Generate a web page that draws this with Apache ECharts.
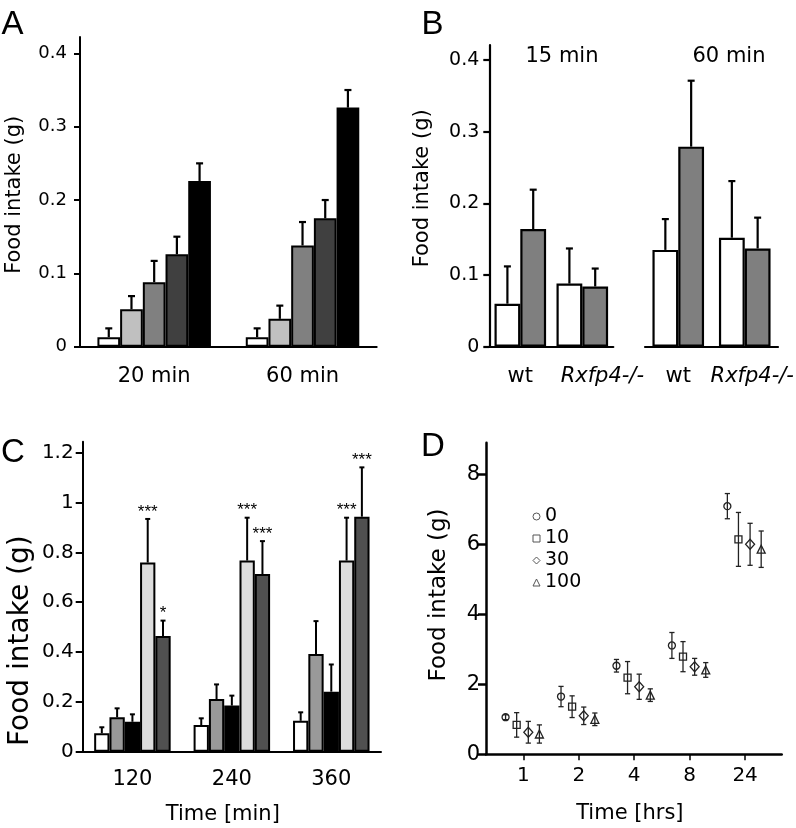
<!DOCTYPE html>
<html><head><meta charset="utf-8">
<script src="https://cdn.jsdelivr.net/npm/echarts@6/dist/echarts.min.js"></script>
<style>html,body{margin:0;padding:0;background:#fff}#c{width:796px;height:828px}</style>
</head><body><div id="c"></div>
<script>
// ---------- Panel A ----------
const aCategories = ['20 min', '60 min'];
const aSeriesMeans = [[0.013, 0.013], [0.051, 0.038], [0.088, 0.138], [0.126, 0.175], [0.226, 0.326]];
const aSeriesErrors = [[0.012, 0.012], [0.018, 0.018], [0.029, 0.032], [0.024, 0.025], [0.024, 0.024]];
const aColors = ['#ffffff', '#c0c0c0', '#808080', '#404040', '#000000'];
const aTicks = [0, 0.1, 0.2, 0.3, 0.4];

// ---------- Panel B ----------
const bCategories = ['wt', 'Rxfp4-/-'];
const bPanels = ['15 min', '60 min'];
const b15Means = [[0.060, 0.088], [0.164, 0.084]];
const b15Errors = [[0.052, 0.049], [0.055, 0.025]];
const b60Means = [[0.135, 0.152], [0.279, 0.137]];
const b60Errors = [[0.043, 0.079], [0.092, 0.043]];
const bColors = ['#ffffff', '#7f7f7f'];
const bTicks = [0, 0.1, 0.2, 0.3, 0.4];

// ---------- Panel C ----------
const cCategories = ['120', '240', '360'];
const cSeriesMeans = [[0.074, 0.107, 0.124], [0.138, 0.211, 0.392], [0.120, 0.185, 0.241], [0.759, 0.767, 0.767], [0.464, 0.713, 0.943]];
const cSeriesErrors = [[0.024, 0.027, 0.034], [0.036, 0.059, 0.132], [0.030, 0.040, 0.109], [0.175, 0.172, 0.172], [0.062, 0.132, 0.198]];
const cStars = [['', '', ''], ['', '', ''], ['', '', ''], ['***', '***', '***'], ['*', '***', '***']];
const cColors = ['#ffffff', '#999999', '#000000', '#dddddd', '#505050'];
const cTicks = [0, 0.2, 0.4, 0.6, 0.8, 1, 1.2];

// ---------- Panel D ----------
const dTimeLabels = ['1', '2', '4', '8', '24'];
const dDoses = ['0', '10', '30', '100'];
const dMeans = [[1.06, 1.65, 2.53, 3.11, 7.09], [0.84, 1.36, 2.19, 2.79, 6.14], [0.63, 1.10, 1.93, 2.50, 6.00], [0.58, 1.00, 1.69, 2.41, 5.86]];
const dErrors = [[0.07, 0.29, 0.18, 0.37, 0.36], [0.35, 0.31, 0.46, 0.43, 0.77], [0.31, 0.25, 0.36, 0.24, 0.60], [0.26, 0.18, 0.18, 0.21, 0.52]];
const dTicks = [0, 2, 4, 6, 8];

// ---------- styling ----------
const FONT = "'DejaVu Sans', sans-serif";
const LETTER_FONT = "'Liberation Sans', Arial, sans-serif";
const dSymbols = ['circle', 'rect', 'diamond', 'triangle'];
const dSymbolSizes = [7, 7, [9, 10], 8];
const dDodge = [-0.32, -0.12, 0.09, 0.29];
const A_BAR = 22.7, B_BAR = 25.8, C_BAR = 15.3;

const chart = echarts.init(document.getElementById('c'), null, {renderer: 'canvas'});

function yAxisCfg(gridIndex, max, ticks, o) {
  return {
    type: 'value', gridIndex, min: 0, max, show: o.show !== false,
    name: o.name || '', nameLocation: 'middle', nameGap: o.nameGap || 0, nameRotate: 90,
    nameTextStyle: {fontFamily: FONT, fontSize: o.nameFs || 21, color: '#000', padding: o.namePad || 0},
    axisLine: {show: true, lineStyle: {color: '#000', width: o.lw || 2}},
    axisTick: {show: true, inside: false, length: o.tickLen || 6, customValues: ticks, lineStyle: {color: '#000', width: o.lw || 2}},
    axisLabel: {customValues: ticks, fontFamily: FONT, fontSize: o.fs, color: '#000', margin: o.margin},
    splitLine: {show: false}
  };
}
function catAxisCfg(gridIndex, cats, o) {
  return {
    type: 'category', gridIndex, data: cats,
    axisLine: {show: true, lineStyle: {color: '#000', width: o.lw || 2}},
    axisTick: {show: false},
    axisLabel: Object.assign({fontFamily: FONT, fontSize: o.fs, color: '#000', margin: o.margin, interval: 0}, o.label || {}),
    name: o.name || '', nameLocation: 'middle', nameGap: o.nameGap || 0,
    nameTextStyle: {fontFamily: FONT, fontSize: o.nameFs || 21, color: '#000', padding: o.namePad || 0},
    splitLine: {show: false}
  };
}
function barSeries(xi, yi, values, color, barW, bw) {
  return {
    type: 'bar', xAxisIndex: xi, yAxisIndex: yi, data: values, barWidth: barW, barGap: '0%',
    itemStyle: {color, borderColor: '#000', borderWidth: bw}, silent: true, z: 2
  };
}
function barErrorSeries(xi, yi, means, errs, k, n, barW, st, stars) {
  return {
    type: 'custom', xAxisIndex: xi, yAxisIndex: yi, z: 5, silent: true,
    data: means.map((m, i) => [i, m, errs[i]]),
    encode: {x: 0, y: 1},
    renderItem(params, api) {
      const base = api.coord([api.value(0), api.value(1)]);
      const tip = api.coord([api.value(0), api.value(1) + api.value(2)]);
      const x = base[0] + (k - (n - 1) / 2) * barW;
      const ls = {stroke: '#000', lineWidth: st.lw};
      const children = [
        {type: 'line', shape: {x1: x, y1: base[1], x2: x, y2: tip[1]}, style: ls},
        {type: 'line', shape: {x1: x - st.cap / 2, y1: tip[1], x2: x + st.cap / 2, y2: tip[1]}, style: ls}
      ];
      const s = stars ? stars[params.dataIndex] : '';
      if (s) {
        children.push({type: 'text', x: x, y: tip[1] - 7, style: {text: s, fill: '#000', fontFamily: LETTER_FONT, fontSize: 17, align: 'center', verticalAlign: 'middle'}});
      }
      return {type: 'group', children};
    }
  };
}

const series = [];
// A
aSeriesMeans.forEach((v, k) => series.push(barSeries(0, 0, v, aColors[k], A_BAR, 2)));
aSeriesMeans.forEach((v, k) => series.push(barErrorSeries(0, 0, v, aSeriesErrors[k], k, 5, A_BAR, {lw: 2.2, cap: 7})));
// B
b15Means.forEach((v, k) => series.push(barSeries(1, 1, v, bColors[k], B_BAR, 2.2)));
b15Means.forEach((v, k) => series.push(barErrorSeries(1, 1, v, b15Errors[k], k, 2, B_BAR, {lw: 2.2, cap: 7})));
b60Means.forEach((v, k) => series.push(barSeries(2, 2, v, bColors[k], B_BAR, 2.2)));
b60Means.forEach((v, k) => series.push(barErrorSeries(2, 2, v, b60Errors[k], k, 2, B_BAR, {lw: 2.2, cap: 7})));
// C
cSeriesMeans.forEach((v, k) => series.push(barSeries(3, 3, v, cColors[k], C_BAR, 2)));
cSeriesMeans.forEach((v, k) => series.push(barErrorSeries(3, 3, v, cSeriesErrors[k], k, 5, C_BAR, {lw: 2, cap: 5}, cStars[k])));
// D
dMeans.forEach((v, k) => {
  series.push({
    type: 'custom', xAxisIndex: 4, yAxisIndex: 4, z: 4, silent: true,
    data: v.map((m, i) => [i + 1 + dDodge[k], m, dErrors[k][i]]),
    encode: {x: 0, y: 1},
    renderItem(params, api) {
      const x = api.value(0), m = api.value(1), e = api.value(2);
      const lo = api.coord([x, m - e]), hi = api.coord([x, m + e]);
      const cx = lo[0], c = 2.6;
      const ls = {stroke: '#222', lineWidth: 1.3};
      return {type: 'group', children: [
        {type: 'line', shape: {x1: cx, y1: lo[1], x2: cx, y2: hi[1]}, style: ls},
        {type: 'line', shape: {x1: cx - c, y1: hi[1], x2: cx + c, y2: hi[1]}, style: ls},
        {type: 'line', shape: {x1: cx - c, y1: lo[1], x2: cx + c, y2: lo[1]}, style: ls}
      ]};
    }
  });
  series.push({
    type: 'scatter', name: dDoses[k], xAxisIndex: 4, yAxisIndex: 4, z: 6, silent: true,
    symbol: dSymbols[k], symbolSize: dSymbolSizes[k],
    data: v.map((m, i) => [i + 1 + dDodge[k], m]),
    itemStyle: {color: 'rgba(255,255,255,0)', borderColor: '#222', borderWidth: 1.3, opacity: 1}
  });
});

function italicLabel(shift) {
  return {
    formatter: v => v === 'wt' ? v : '{i|' + v + '}',
    rich: {i: {fontStyle: 'italic', fontFamily: FONT, fontSize: 21, color: '#000', padding: [0, 0, 0, shift]}}
  };
}

const option = {
  animation: false,
  backgroundColor: '#fff',
  textStyle: {fontFamily: FONT},
  grid: [
    {left: 80, top: 37, width: 296.7, height: 309.7, outerBoundsMode: 'none', containLabel: false},
    {left: 489.3, top: 45, width: 124, height: 301.7, outerBoundsMode: 'none', containLabel: false},
    {left: 645, top: 45, width: 133, height: 301.7, outerBoundsMode: 'none', containLabel: false},
    {left: 82.7, top: 441.7, width: 298.3, height: 310, outerBoundsMode: 'none', containLabel: false},
    {left: 486, top: 442.7, width: 295.7, height: 311.6, outerBoundsMode: 'none', containLabel: false}
  ],
  xAxis: [
    catAxisCfg(0, aCategories, {fs: 21, margin: 19}),
    catAxisCfg(1, bCategories, {fs: 21, margin: 19, lw: 2.2, label: italicLabel(40)}),
    catAxisCfg(2, bCategories, {fs: 21, margin: 19, lw: 2.2, label: italicLabel(15)}),
    catAxisCfg(3, cCategories, {fs: 21, margin: 17, name: 'Time [min]', nameGap: 52, nameFs: 21, namePad: [0, 18, 0, 0]}),
    {
      type: 'value', gridIndex: 4, min: 0.327, max: 5.66,
      axisLine: {show: true, lineStyle: {color: '#000', width: 2.5}},
      axisTick: {show: true, inside: false, length: 6, customValues: [1, 2, 3, 4, 5], lineStyle: {color: '#000', width: 1.5}},
      axisLabel: {customValues: [1, 2, 3, 4, 5], formatter: v => dTimeLabels[Math.round(v) - 1], fontFamily: FONT, fontSize: 20, color: '#000', margin: 11},
      splitLine: {show: false},
      name: 'Time [hrs]', nameLocation: 'middle', nameGap: 49,
      nameTextStyle: {fontFamily: FONT, fontSize: 21, color: '#000', padding: [0, 8, 0, 0]}
    }
  ],
  yAxis: [
    yAxisCfg(0, 0.4223, aTicks, {fs: 18, margin: 13, name: 'Food intake (g)', nameGap: 55, nameFs: 21, namePad: [0, 6, 0, 0]}),
    yAxisCfg(1, 0.4208, bTicks, {fs: 19, margin: 10, lw: 2.2, name: 'Food intake (g)', nameGap: 56, nameFs: 21, namePad: [0, 0, 0, 15]}),
    yAxisCfg(2, 0.4208, bTicks, {fs: 19, margin: 10, show: false}),
    yAxisCfg(3, 1.244, cTicks, {fs: 20, margin: 9, tickLen: 7, name: 'Food intake (g)', nameGap: 48, nameFs: 28, namePad: [0, 88, 0, 0]}),
    yAxisCfg(4, 8.903, dTicks, {fs: 21, margin: 6, tickLen: 8, lw: 2.5, name: 'Food intake (g)', nameGap: 35, nameFs: 23, namePad: [0, 0, 0, 7]})
  ],
  legend: {
    data: dDoses, orient: 'vertical', left: 527.5, top: 502,
    itemWidth: 7, itemHeight: 7, itemGap: 3, selectedMode: false,
    itemStyle: {color: 'rgba(255,255,255,0)', borderColor: '#555', borderWidth: 1},
    textStyle: {fontFamily: FONT, fontSize: 19, color: '#000'}
  },
  graphic: [
    {type: 'text', x: 12.5, y: 24.5, style: {text: 'A', fontFamily: LETTER_FONT, fontSize: 33, fill: '#000', align: 'center', verticalAlign: 'middle'}},
    {type: 'text', x: 432.5, y: 25, style: {text: 'B', fontFamily: LETTER_FONT, fontSize: 33, fill: '#000', align: 'center', verticalAlign: 'middle'}},
    {type: 'text', x: 13, y: 452.5, style: {text: 'C', fontFamily: LETTER_FONT, fontSize: 33, fill: '#000', align: 'center', verticalAlign: 'middle'}},
    {type: 'text', x: 433, y: 446.7, style: {text: 'D', fontFamily: LETTER_FONT, fontSize: 33, fill: '#000', align: 'center', verticalAlign: 'middle'}},
    {type: 'text', x: 562, y: 57, style: {text: bPanels[0], fontFamily: FONT, fontSize: 21, fill: '#000', align: 'center', verticalAlign: 'middle'}},
    {type: 'text', x: 729, y: 57, style: {text: bPanels[1], fontFamily: FONT, fontSize: 21, fill: '#000', align: 'center', verticalAlign: 'middle'}}
  ],
  series
};
chart.setOption(option);
</script>
</body></html>
